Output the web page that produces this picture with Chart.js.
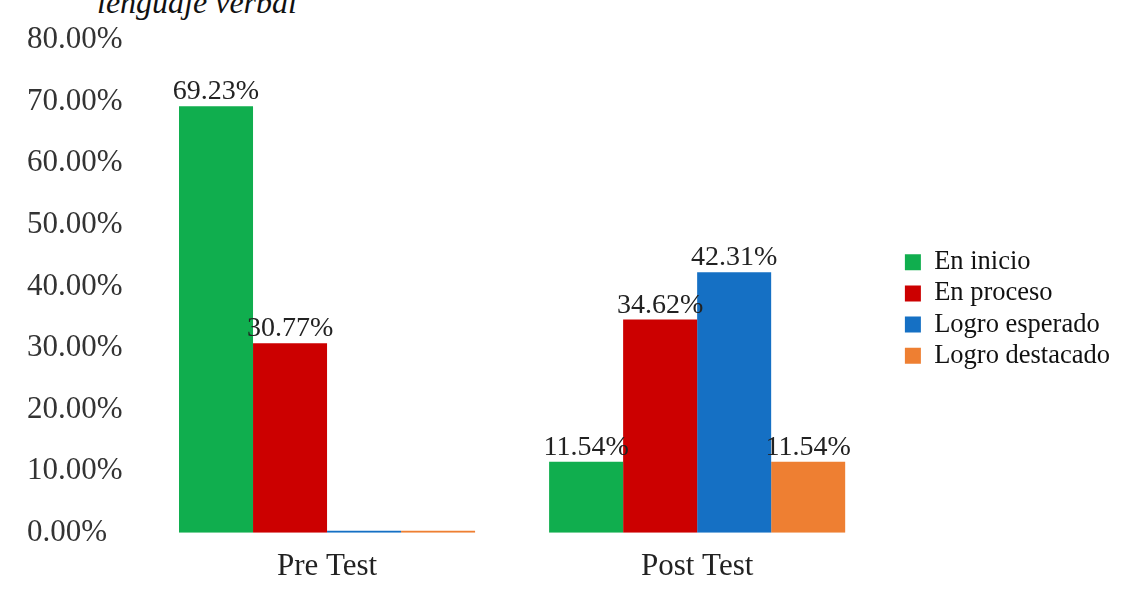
<!DOCTYPE html>
<html>
<head>
<meta charset="utf-8">
<script src="https://cdn.jsdelivr.net/npm/chart.js@4"></script>
<style>
    html, body { margin: 0; padding: 0; background: #fff; overflow: hidden; }
    #wrap { position: relative; width: 1121px; height: 600px; }
    #caption {
        position: absolute; left: 97px; top: -14px;
        font-family: 'Liberation Serif', serif; font-style: italic;
        font-size: 32px; line-height: 32px; color: #111; white-space: nowrap;
    }
    canvas { position: absolute; left: 0; top: 0; }
</style>
</head>
<body>
<div id="wrap">
    <div id="caption">lenguaje verbal</div>
    <canvas id="chart" width="1121" height="600"></canvas>
</div>
<script>
// Datos
const categories = ['Pre Test', 'Post Test'];
const seriesNames = ['En inicio', 'En proceso', 'Logro esperado', 'Logro destacado'];
const enInicio = [69.23, 11.54];
const enProceso = [30.77, 34.62];
const logroEsperado = [0, 42.31];
const logroDestacado = [0, 11.54];
const yTicks = [0, 10, 20, 30, 40, 50, 60, 70, 80];

const colors = ['#10AE4E', '#CC0000', '#1570C4', '#EE7F32'];
const FONT = "'Liberation Serif', 'Times New Roman', serif";

// etiquetas sobre las barras
const barLabels = {
    id: 'barLabels',
    afterDatasetsDraw(chart) {
        const ctx = chart.ctx;
        ctx.save();
        ctx.font = '28px ' + FONT;
        ctx.fillStyle = '#222';
        ctx.textAlign = 'center';
        ctx.textBaseline = 'alphabetic';
        chart.data.datasets.forEach((ds, i) => {
            chart.getDatasetMeta(i).data.forEach((bar, j) => {
                const v = ds.data[j];
                if (!v) return;
                ctx.fillText(v.toFixed(2) + '%', bar.x, bar.y - 7);
            });
        });
        ctx.restore();
    }
};

// separa un poco la leyenda del área del gráfico
const legendShift = {
    id: 'legendShift',
    afterLayout(chart) {
        const lg = chart.legend;
        if (!lg) return;
        lg.left += 18; lg.right += 18;
        lg.top -= 7; lg.bottom -= 7;
    }
};

const series = [enInicio, enProceso, logroEsperado, logroDestacado];

new Chart(document.getElementById('chart'), {
    type: 'bar',
    data: {
        labels: categories,
        datasets: series.map((values, i) => ({
            label: seriesNames[i],
            data: values,
            backgroundColor: colors[i],
            borderWidth: 0,
            minBarLength: i >= 2 ? 2 : 0,
            categoryPercentage: 0.8,
            barPercentage: 1.0
        }))
    },
    options: {
        responsive: false,
        animation: false,
        layout: { padding: { top: 40, left: 27, right: 19, bottom: 8 } },
        plugins: {
            legend: {
                position: 'right',
                labels: {
                    font: { family: FONT, size: 26.5 },
                    color: '#111',
                    boxWidth: 16,
                    boxHeight: 16,
                    padding: 4.7
                }
            },
            tooltip: { enabled: false }
        },
        scales: {
            y: {
                min: 0,
                max: 80,
                afterBuildTicks: scale => { scale.ticks = yTicks.map(v => ({ value: v })); },
                afterFit: scale => { scale.width = 115; },
                grid: { display: false },
                border: { display: false },
                ticks: {
                    crossAlign: 'far',
                    font: { family: FONT, size: 31 },
                    color: '#333',
                    callback: v => Number(v).toFixed(2) + '%'
                }
            },
            x: {
                grid: { display: false },
                border: { display: false },
                ticks: {
                    padding: 7,
                    font: { family: FONT, size: 31 },
                    color: '#222'
                }
            }
        }
    },
    plugins: [barLabels, legendShift]
});
</script>
</body>
</html>
